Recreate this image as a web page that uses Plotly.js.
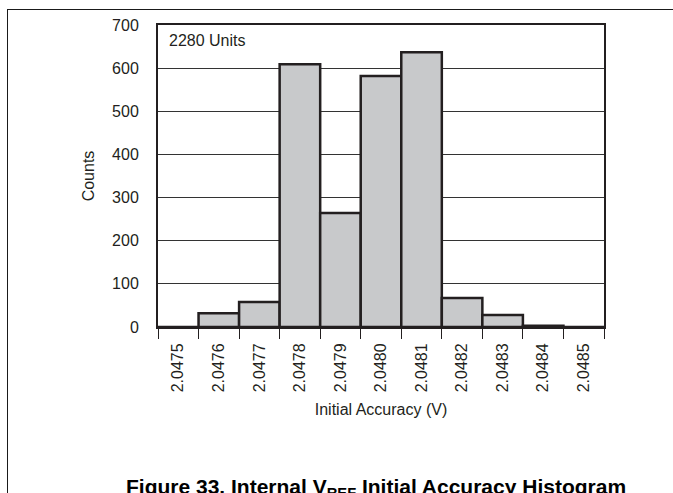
<!DOCTYPE html>
<html>
<head>
<meta charset="utf-8">
<script src="https://cdn.plot.ly/plotly-3.0.1.min.js"></script>
<style>
  body { margin: 0; background: #fff; overflow: hidden; }
  #chart { position: absolute; left: 0; top: 0; width: 673px; height: 493px; }
  #frame { position: absolute; left: 7px; top: 9px; width: 666px; height: 484px;
           border-left: 1.5px solid #1a1a1a; border-top: 1.5px solid #1a1a1a;
           pointer-events: none; }
</style>
</head>
<body>
<div id="chart"></div>
<div id="frame"></div>
<script>
const bins = ['2.0475', '2.0476', '2.0477', '2.0478', '2.0479', '2.0480',
              '2.0481', '2.0482', '2.0483', '2.0484', '2.0485'];
const counts = [0, 32, 58, 609, 264, 582, 637, 67, 28, 3, 0];
const yTicks = [0, 100, 200, 300, 400, 500, 600, 700];
const unitsLabel = '2280 Units';
const xTitle = 'Initial Accuracy (V)';
const yTitle = 'Counts';
const caption = '<b>Figure 33. Internal V<sub>REF</sub> Initial Accuracy Histogram</b>';

const FONT = 'Liberation Sans, Arial, Helvetica, sans-serif';
const INK = '#231f20';

const trace = {
  type: 'bar',
  x: bins,
  y: counts,
  marker: { color: '#c8c9cb', line: { color: INK, width: 2.5 } },
  hoverinfo: 'skip'
};

const layout = {
  width: 673,
  height: 493,
  margin: { l: 158, r: 69, t: 25, b: 166, pad: 0 },
  paper_bgcolor: '#ffffff',
  plot_bgcolor: '#ffffff',
  showlegend: false,
  bargap: 0,
  font: { family: FONT, size: 16, color: INK },
  xaxis: {
    type: 'category',
    range: [-0.5, 10.5],
    tickson: 'boundaries',
    ticks: 'outside',
    ticklen: 10,
    tickwidth: 1,
    tickcolor: INK,
    tickangle: -90,
    ticklabelstandoff: 8,
    tickfont: { family: FONT, size: 16, color: INK },
    showgrid: false,
    showline: true,
    linecolor: INK,
    linewidth: 2,
    mirror: true,
    zeroline: false,
    fixedrange: true,
    title: { text: xTitle, font: { family: FONT, size: 16, color: INK }, standoff: 12 },
    automargin: false
  },
  yaxis: {
    range: [0, 700],
    tickvals: yTicks,
    ticks: '',
    ticklabelstandoff: 14,
    tickfont: { family: FONT, size: 16, color: INK },
    showgrid: true,
    gridcolor: '#333333',
    gridwidth: 1,
    showline: true,
    linecolor: INK,
    linewidth: 2,
    mirror: true,
    zeroline: false,
    fixedrange: true,
    title: { text: yTitle, font: { family: FONT, size: 16, color: INK }, standoff: 13 },
    automargin: false
  },
  annotations: [
    {
      text: unitsLabel,
      xref: 'paper', yref: 'paper',
      x: 0.02, y: 0.948,
      xanchor: 'left', yanchor: 'middle',
      showarrow: false,
      font: { family: FONT, size: 16, color: INK }
    },
    {
      text: caption,
      xref: 'paper', yref: 'paper',
      x: 0.489, y: -0.583,
      xanchor: 'center', yanchor: 'bottom',
      showarrow: false,
      font: { family: FONT, size: 21, color: '#000000' }
    }
  ]
};

Plotly.newPlot('chart', [trace], layout, { displayModeBar: false, staticPlot: true });
</script>
</body>
</html>
